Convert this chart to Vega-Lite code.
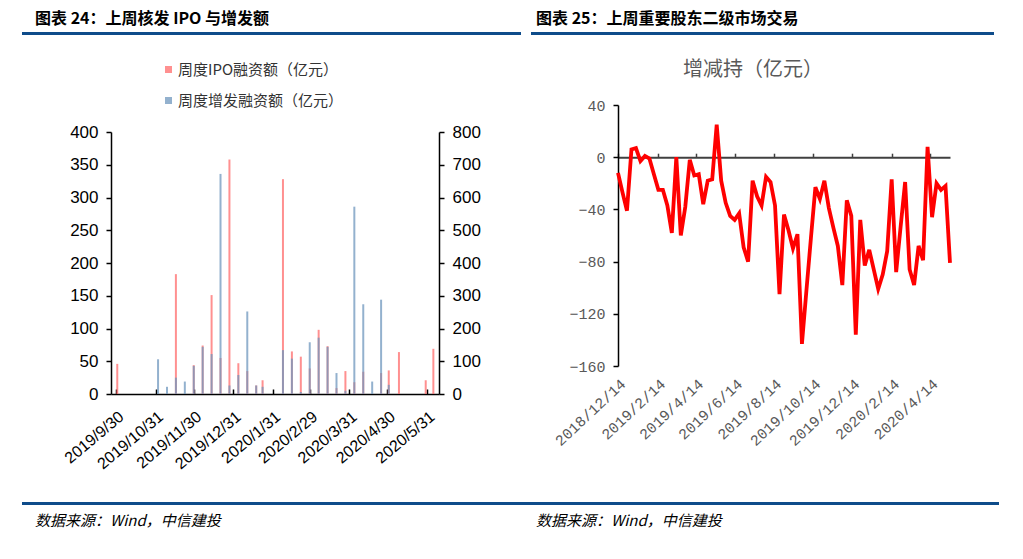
{
  "$schema": "https://vega.github.io/schema/vega-lite/v6.json",
  "background": "white",
  "padding": {"left": 22, "top": 10, "right": 0, "bottom": 0},
  "config": {
    "view": {"stroke": null},
    "title": {"font": "Noto Sans CJK SC", "color": "#000000"}
  },
  "columns": 2,
  "align": "none",
  "spacing": 0,
  "resolve": {"scale": {"color": "independent"}, "legend": {"color": "independent"}},
  "concat": [
    {
      "columns": 1,
      "align": "none",
      "spacing": 27,
      "resolve": {"scale": {"color": "independent"}, "legend": {"color": "independent"}},
      "concat": [
        {
          "width": 497,
          "height": 1,
          "data": {"values": []},
          "mark": "point",
          "encoding": {},
          "view": {"stroke": "#0E4C8A", "strokeWidth": 2, "fill": "#0E4C8A"},
          "title": {"text": "图表 24：上周核发 IPO 与增发额", "anchor": "start", "dx": 12, "offset": 6, "fontSize": 16, "fontWeight": "bold"}
        },
        {
          "columns": 2,
          "align": "none",
          "spacing": 0,
          "resolve": {"scale": {"color": "independent"}, "legend": {"color": "independent"}},
          "concat": [
            {
              "width": 1,
              "height": 1,
              "data": {"values": []},
              "mark": "point",
              "encoding": {}
            },
            {
              "width": 328,
              "height": 262,
              "data": {
                "values": [
                  {"date": "2019-10-01", "ipo": 46, "zf": 0},
                  {"date": "2019-11-02", "ipo": 0, "zf": 106},
                  {"date": "2019-11-09", "ipo": 0, "zf": 22},
                  {"date": "2019-11-16", "ipo": 183, "zf": 50},
                  {"date": "2019-11-23", "ipo": 0, "zf": 38},
                  {"date": "2019-11-30", "ipo": 44, "zf": 86},
                  {"date": "2019-12-07", "ipo": 74, "zf": 144},
                  {"date": "2019-12-14", "ipo": 151, "zf": 122},
                  {"date": "2019-12-21", "ipo": 55, "zf": 672},
                  {"date": "2019-12-28", "ipo": 358, "zf": 26},
                  {"date": "2020-01-04", "ipo": 47, "zf": 58},
                  {"date": "2020-01-11", "ipo": 35, "zf": 252},
                  {"date": "2020-01-18", "ipo": 13, "zf": 26},
                  {"date": "2020-01-23", "ipo": 21, "zf": 22},
                  {"date": "2020-02-08", "ipo": 328, "zf": 134},
                  {"date": "2020-02-15", "ipo": 65, "zf": 108},
                  {"date": "2020-02-22", "ipo": 57, "zf": 6},
                  {"date": "2020-02-29", "ipo": 39, "zf": 158},
                  {"date": "2020-03-07", "ipo": 98, "zf": 172},
                  {"date": "2020-03-14", "ipo": 73, "zf": 144},
                  {"date": "2020-03-21", "ipo": 9, "zf": 64},
                  {"date": "2020-03-28", "ipo": 35, "zf": 10},
                  {"date": "2020-04-04", "ipo": 18, "zf": 572},
                  {"date": "2020-04-11", "ipo": 34, "zf": 274},
                  {"date": "2020-04-18", "ipo": 0, "zf": 38},
                  {"date": "2020-04-25", "ipo": 32, "zf": 288},
                  {"date": "2020-05-01", "ipo": 36, "zf": 28},
                  {"date": "2020-05-09", "ipo": 64, "zf": 0},
                  {"date": "2020-05-30", "ipo": 21, "zf": 0},
                  {"date": "2020-06-05", "ipo": 69, "zf": 0}
                ]
              },
              "encoding": {
                "x": {
                  "field": "date",
                  "type": "temporal",
                  "scale": {
                    "type": "utc",
                    "domain": [
                      {"year": 2019, "month": 9, "date": 30, "utc": true},
                      {"year": 2020, "month": 6, "date": 5, "hours": 12, "utc": true}
                    ]
                  },
                  "axis": {
                    "values": [
                      {"year": 2019, "month": 9, "date": 30, "utc": true},
                      {"year": 2019, "month": 10, "date": 31, "utc": true},
                      {"year": 2019, "month": 11, "date": 30, "utc": true},
                      {"year": 2019, "month": 12, "date": 31, "utc": true},
                      {"year": 2020, "month": 1, "date": 31, "utc": true},
                      {"year": 2020, "month": 2, "date": 29, "utc": true},
                      {"year": 2020, "month": 3, "date": 31, "utc": true},
                      {"year": 2020, "month": 4, "date": 30, "utc": true},
                      {"year": 2020, "month": 5, "date": 31, "utc": true}
                    ],
                    "format": "%Y/%-m/%-d",
                    "labelAngle": -40,
                    "labelFont": "Liberation Sans",
                    "labelFontSize": 16,
                    "labelColor": "#000000",
                    "labelPadding": 19,
                    "domainColor": "#000000",
                    "domainWidth": 1.5,
                    "tickColor": "#000000",
                    "tickWidth": 1.5,
                    "tickSize": -5,
                    "grid": false,
                    "labelOverlap": false,
                    "title": "\u00a0",
                    "titleFontSize": 3,
                    "titlePadding": 0
                  }
                }
              },
              "layer": [
                {
                  "mark": {"type": "bar", "width": 2, "opacity": 0.75},
                  "encoding": {
                    "y": {
                      "field": "ipo",
                      "type": "quantitative",
                      "scale": {"domain": [0, 400], "nice": false},
                      "axis": {
                        "orient": "left",
                        "values": [0, 50, 100, 150, 200, 250, 300, 350, 400],
                        "labelFont": "Liberation Sans",
                        "labelFontSize": 17,
                        "labelColor": "#000000",
                        "labelPadding": 8,
                        "domainColor": "#000000",
                        "domainWidth": 1.5,
                        "tickColor": "#000000",
                        "tickWidth": 1.5,
                        "tickSize": 5,
                        "grid": false,
                        "title": "\u00a0",
                        "titleFontSize": 8,
                        "titlePadding": 37
                      }
                    },
                    "color": {
                      "datum": "周度IPO融资额（亿元）",
                      "type": "nominal",
                      "scale": {
                        "domain": ["周度IPO融资额（亿元）", "周度增发融资额（亿元）"],
                        "range": ["#FF6B6B", "#6F97BD"]
                      },
                      "legend": {
                        "orient": "top",
                        "offset": 23,
                        "direction": "vertical",
                        "title": "\u00a0",
                        "titleOrient": "left",
                        "titleFontSize": 8,
                        "titlePadding": 50,
                        "symbolType": "square",
                        "symbolSize": 49,
                        "symbolOpacity": 0.8,
                        "symbolStrokeWidth": 0,
                        "labelFont": "Noto Sans CJK SC",
                        "labelFontSize": 15,
                        "labelColor": "#333333",
                        "labelOffset": 2,
                        "labelLimit": 400,
                        "rowPadding": 15
                      }
                    }
                  }
                },
                {
                  "mark": {"type": "bar", "width": 2, "opacity": 0.75},
                  "encoding": {
                    "y": {
                      "field": "zf",
                      "type": "quantitative",
                      "scale": {"domain": [0, 800], "nice": false},
                      "axis": {
                        "orient": "right",
                        "values": [0, 100, 200, 300, 400, 500, 600, 700, 800],
                        "labelFont": "Liberation Sans",
                        "labelFontSize": 17,
                        "labelColor": "#000000",
                        "labelPadding": 8,
                        "domainColor": "#000000",
                        "domainWidth": 1.5,
                        "tickColor": "#000000",
                        "tickWidth": 1.5,
                        "tickSize": 5,
                        "grid": false,
                        "title": null
                      }
                    },
                    "color": {"datum": "周度增发融资额（亿元）", "type": "nominal"}
                  }
                }
              ],
              "resolve": {"scale": {"y": "independent"}}
            }
          ]
        },
        {
          "width": 507,
          "height": 1,
          "data": {"values": []},
          "mark": "point",
          "encoding": {},
          "view": {"stroke": "#0E4C8A", "strokeWidth": 2, "fill": "#0E4C8A"},
          "title": {"text": "数据来源：Wind，中信建投", "orient": "bottom", "anchor": "start", "dx": 12, "offset": 10, "fontSize": 15, "fontStyle": "italic", "fontWeight": "normal"}
        }
      ]
    },
    {
      "columns": 1,
      "align": "none",
      "spacing": 25,
      "concat": [
        {
          "width": 461,
          "height": 1,
          "data": {"values": []},
          "mark": "point",
          "encoding": {},
          "view": {"stroke": "#0E4C8A", "strokeWidth": 2, "fill": "#0E4C8A"},
          "title": {"text": "图表 25：上周重要股东二级市场交易", "anchor": "start", "dx": 4, "offset": 6, "fontSize": 16, "fontWeight": "bold"}
        },
        {
          "columns": 2,
          "align": "none",
          "spacing": 0,
          "concat": [
            {
              "width": 1,
              "height": 1,
              "data": {"values": []},
              "mark": "point",
              "encoding": {}
            },
            {
              "width": 332,
              "height": 261,
              "title": {"text": "增减持（亿元）", "fontSize": 20, "fontWeight": "normal", "color": "#595959", "anchor": "middle", "frame": "group", "dx": -31, "offset": 18},
              "data": {
                "values": [
                  {"date": "2018-12-14", "v": -12},
                  {"date": "2018-12-21", "v": -27},
                  {"date": "2018-12-28", "v": -41},
                  {"date": "2019-01-04", "v": 6},
                  {"date": "2019-01-11", "v": 7},
                  {"date": "2019-01-18", "v": -3},
                  {"date": "2019-01-25", "v": 1},
                  {"date": "2019-02-01", "v": -1},
                  {"date": "2019-02-08", "v": -13},
                  {"date": "2019-02-15", "v": -25},
                  {"date": "2019-02-22", "v": -25},
                  {"date": "2019-03-01", "v": -37},
                  {"date": "2019-03-08", "v": -58},
                  {"date": "2019-03-15", "v": 0},
                  {"date": "2019-03-22", "v": -60},
                  {"date": "2019-03-29", "v": -38},
                  {"date": "2019-04-05", "v": -2},
                  {"date": "2019-04-12", "v": -14},
                  {"date": "2019-04-19", "v": -13},
                  {"date": "2019-04-26", "v": -36},
                  {"date": "2019-05-03", "v": -18},
                  {"date": "2019-05-10", "v": -17},
                  {"date": "2019-05-17", "v": 25},
                  {"date": "2019-05-24", "v": -18},
                  {"date": "2019-05-31", "v": -35},
                  {"date": "2019-06-07", "v": -45},
                  {"date": "2019-06-14", "v": -48},
                  {"date": "2019-06-21", "v": -43},
                  {"date": "2019-06-28", "v": -69},
                  {"date": "2019-07-05", "v": -80},
                  {"date": "2019-07-12", "v": -18},
                  {"date": "2019-07-19", "v": -30},
                  {"date": "2019-07-26", "v": -37},
                  {"date": "2019-08-02", "v": -15},
                  {"date": "2019-08-09", "v": -19},
                  {"date": "2019-08-16", "v": -37},
                  {"date": "2019-08-23", "v": -105},
                  {"date": "2019-08-30", "v": -44},
                  {"date": "2019-09-06", "v": -56},
                  {"date": "2019-09-13", "v": -70},
                  {"date": "2019-09-20", "v": -59},
                  {"date": "2019-09-27", "v": -143},
                  {"date": "2019-10-04", "v": -102},
                  {"date": "2019-10-11", "v": -62},
                  {"date": "2019-10-18", "v": -23},
                  {"date": "2019-10-25", "v": -32},
                  {"date": "2019-11-01", "v": -18},
                  {"date": "2019-11-08", "v": -39},
                  {"date": "2019-11-15", "v": -54},
                  {"date": "2019-11-22", "v": -68},
                  {"date": "2019-11-29", "v": -98},
                  {"date": "2019-12-06", "v": -33},
                  {"date": "2019-12-13", "v": -45},
                  {"date": "2019-12-20", "v": -136},
                  {"date": "2019-12-27", "v": -48},
                  {"date": "2020-01-03", "v": -83},
                  {"date": "2020-01-10", "v": -71},
                  {"date": "2020-01-17", "v": -86},
                  {"date": "2020-01-24", "v": -101},
                  {"date": "2020-01-31", "v": -90},
                  {"date": "2020-02-07", "v": -72},
                  {"date": "2020-02-14", "v": -17},
                  {"date": "2020-02-21", "v": -88},
                  {"date": "2020-02-28", "v": -53},
                  {"date": "2020-03-06", "v": -19},
                  {"date": "2020-03-13", "v": -86},
                  {"date": "2020-03-20", "v": -98},
                  {"date": "2020-03-27", "v": -68},
                  {"date": "2020-04-03", "v": -79},
                  {"date": "2020-04-10", "v": 8},
                  {"date": "2020-04-17", "v": -46},
                  {"date": "2020-04-24", "v": -20},
                  {"date": "2020-05-01", "v": -25},
                  {"date": "2020-05-08", "v": -22},
                  {"date": "2020-05-15", "v": -81}
                ]
              },
              "layer": [
                {
                  "mark": {"type": "line", "color": "#FF0000", "strokeWidth": 3.8},
                  "encoding": {
                    "x": {
                      "field": "date",
                      "type": "temporal",
                      "scale": {
                        "type": "utc",
                        "domain": [
                          {"year": 2018, "month": 12, "date": 14, "utc": true},
                          {"year": 2020, "month": 5, "date": 15, "utc": true}
                        ]
                      },
                      "axis": {
                        "orient": "bottom",
                        "values": [
                          {"year": 2018, "month": 12, "date": 14, "utc": true},
                          {"year": 2019, "month": 2, "date": 14, "utc": true},
                          {"year": 2019, "month": 4, "date": 14, "utc": true},
                          {"year": 2019, "month": 6, "date": 14, "utc": true},
                          {"year": 2019, "month": 8, "date": 14, "utc": true},
                          {"year": 2019, "month": 10, "date": 14, "utc": true},
                          {"year": 2019, "month": 12, "date": 14, "utc": true},
                          {"year": 2020, "month": 2, "date": 14, "utc": true},
                          {"year": 2020, "month": 4, "date": 14, "utc": true}
                        ],
                        "format": "%Y/%-m/%-d",
                        "labelAngle": -43,
                        "labelFont": "Liberation Mono",
                        "labelFontSize": 15,
                        "labelColor": "#595959",
                        "labelPadding": 10,
                        "labelOverlap": false,
                        "domain": false,
                        "ticks": false,
                        "grid": false,
                        "title": "\u00a0",
                        "titleFontSize": 8,
                        "titlePadding": 20
                      }
                    },
                    "y": {
                      "field": "v",
                      "type": "quantitative",
                      "scale": {"domain": [-160, 40], "nice": false},
                      "axis": {
                        "values": [-160, -140, -120, -100, -80, -60, -40, -20, 0, 20, 40],
                        "labelFont": "Liberation Mono",
                        "labelFontSize": 15,
                        "labelColor": "#595959",
                        "labelPadding": 8,
                        "domainColor": "#000000",
                        "domainWidth": 1.5,
                        "tickColor": "#000000",
                        "tickWidth": 1.5,
                        "tickSize": 5,
                        "grid": false,
                        "title": "\u00a0",
                        "titleFontSize": 8,
                        "titlePadding": 27
                      }
                    }
                  }
                },
                {
                  "mark": {"type": "line", "opacity": 0},
                  "encoding": {
                    "x": {
                      "field": "date",
                      "type": "temporal",
                      "axis": {
                        "orient": "top",
                        "offset": -52.2,
                        "values": [
                          {"year": 2018, "month": 12, "date": 14, "utc": true},
                          {"year": 2019, "month": 2, "date": 14, "utc": true},
                          {"year": 2019, "month": 4, "date": 14, "utc": true},
                          {"year": 2019, "month": 6, "date": 14, "utc": true},
                          {"year": 2019, "month": 8, "date": 14, "utc": true},
                          {"year": 2019, "month": 10, "date": 14, "utc": true},
                          {"year": 2019, "month": 12, "date": 14, "utc": true},
                          {"year": 2020, "month": 2, "date": 14, "utc": true},
                          {"year": 2020, "month": 4, "date": 14, "utc": true}
                        ],
                        "labels": false,
                        "domainColor": "#404040",
                        "domainWidth": 2,
                        "tickColor": "#404040",
                        "tickWidth": 1.5,
                        "tickSize": 4,
                        "grid": false,
                        "title": null
                      }
                    },
                    "y": {"field": "v", "type": "quantitative"}
                  }
                }
              ],
              "resolve": {"axis": {"x": "independent"}}
            }
          ]
        },
        {
          "width": 466,
          "height": 1,
          "data": {"values": []},
          "mark": "point",
          "encoding": {},
          "view": {"stroke": "#0E4C8A", "strokeWidth": 2, "fill": "#0E4C8A"},
          "title": {"text": "数据来源：Wind，中信建投", "orient": "bottom", "anchor": "start", "dx": 4, "offset": 10, "fontSize": 15, "fontStyle": "italic", "fontWeight": "normal"}
        }
      ]
    }
  ]
}
